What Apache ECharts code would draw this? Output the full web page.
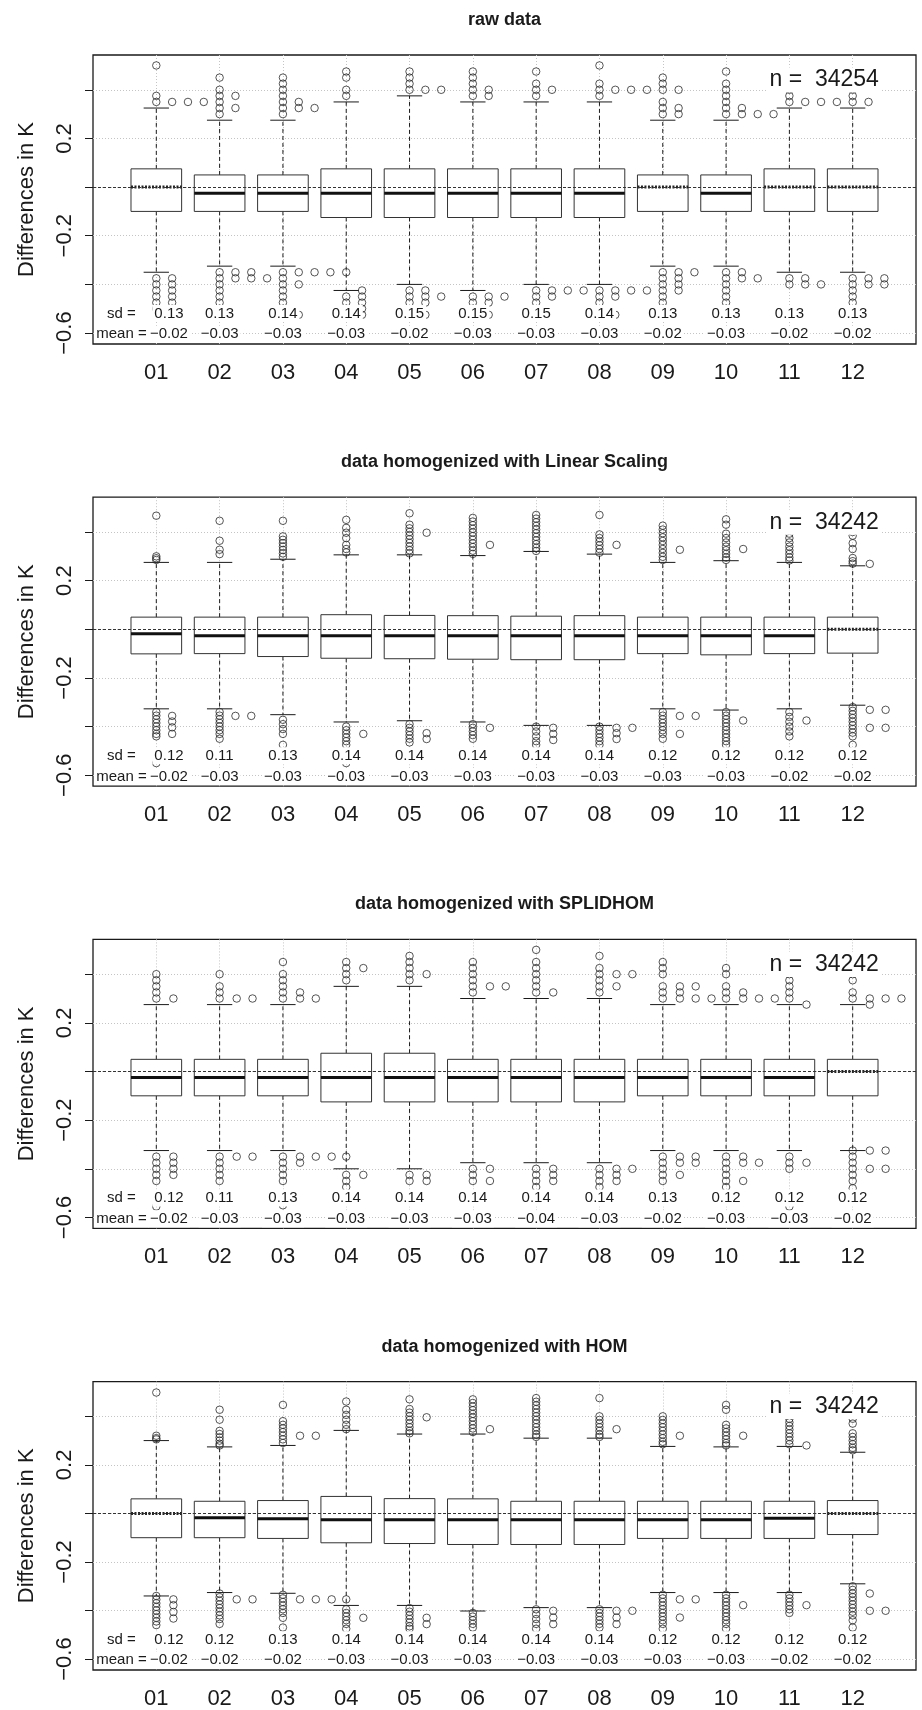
<!DOCTYPE html>
<html><head><meta charset="utf-8">
<script src="https://cdn.jsdelivr.net/npm/echarts@6/dist/echarts.min.js"></script>
<style>html,body{margin:0;padding:0;background:#fff}#c{width:922px;height:1710px}</style>
</head><body><div id="c"></div>
<script>
// ---------- data ----------
const months = ['01','02','03','04','05','06','07','08','09','10','11','12'];
const panelTitles = ['raw data','data homogenized with Linear Scaling','data homogenized with SPLIDHOM','data homogenized with HOM'];
const nValues = [34254, 34242, 34242, 34242];
const yTickValues = [-0.6, -0.4, -0.2, 0, 0.2, 0.4];
const yLabelValues = [-0.6, -0.2, 0.2];

// raw data
const rawHi  = [0.325,0.275,0.275,0.35,0.375,0.35,0.35,0.35,0.275,0.275,0.325,0.325];
const rawQ3  = [0.075,0.05,0.05,0.075,0.075,0.075,0.075,0.075,0.05,0.05,0.075,0.075];
const rawMed = [0,-0.025,-0.025,-0.025,-0.025,-0.025,-0.025,-0.025,0,-0.025,0,0];
const rawQ1  = [-0.1,-0.1,-0.1,-0.125,-0.125,-0.125,-0.125,-0.125,-0.1,-0.1,-0.1,-0.1];
const rawLo  = [-0.35,-0.325,-0.325,-0.425,-0.4,-0.425,-0.4,-0.4,-0.325,-0.325,-0.35,-0.35];
const rawSd   = [0.13,0.13,0.14,0.14,0.15,0.15,0.15,0.14,0.13,0.13,0.13,0.13];
const rawMean = [-0.02,-0.03,-0.03,-0.03,-0.02,-0.03,-0.03,-0.03,-0.02,-0.03,-0.02,-0.02];
const rawOut = [
 [1,0.35],[1,0.375],[1,0.5],[1.25,0.35],[1.5,0.35],[1.75,0.35],
 [2,0.3],[2,0.325],[2,0.35],[2,0.375],[2,0.4],[2,0.45],[2.25,0.325],[2.25,0.375],
 [3,0.3],[3,0.325],[3,0.35],[3,0.375],[3,0.4],[3,0.425],[3,0.45],[3.25,0.325],[3.25,0.35],[3.5,0.325],
 [4,0.375],[4,0.4],[4,0.45],[4,0.475],
 [5,0.4],[5,0.425],[5,0.45],[5,0.475],[5.25,0.4],[5.5,0.4],
 [6,0.375],[6,0.4],[6,0.425],[6,0.45],[6,0.475],[6.25,0.375],[6.25,0.4],
 [7,0.375],[7,0.4],[7,0.425],[7,0.475],[7.25,0.4],
 [8,0.375],[8,0.4],[8,0.425],[8,0.5],[8.25,0.4],[8.5,0.4],[8.75,0.4],
 [9,0.3],[9,0.325],[9,0.35],[9,0.4],[9,0.425],[9,0.45],[9.25,0.3],[9.25,0.325],[9.25,0.4],
 [10,0.3],[10,0.325],[10,0.35],[10,0.375],[10,0.4],[10,0.425],[10,0.475],[10.25,0.3],[10.25,0.325],[10.5,0.3],[10.75,0.3],
 [11,0.35],[11,0.375],[11,0.4],[11.25,0.35],[11.5,0.35],[11.75,0.35],
 [12,0.35],[12,0.375],[12,0.4],[12.25,0.35],
 [1,-0.375],[1,-0.4],[1,-0.425],[1,-0.45],[1,-0.475],[1,-0.5],[1.25,-0.375],[1.25,-0.4],[1.25,-0.425],[1.25,-0.45],[1.25,-0.475],[1.25,-0.5],
 [2,-0.35],[2,-0.375],[2,-0.4],[2,-0.425],[2,-0.45],[2,-0.475],[2,-0.5],[2.25,-0.35],[2.25,-0.375],[2.5,-0.35],[2.5,-0.375],[2.75,-0.375],
 [3,-0.35],[3,-0.375],[3,-0.4],[3,-0.425],[3,-0.45],[3,-0.475],[3,-0.5],[3.25,-0.35],[3.25,-0.4],[3.25,-0.525],[3.5,-0.35],[3.75,-0.35],[4,-0.35],
 [4,-0.45],[4,-0.475],[4,-0.5],[4.25,-0.425],[4.25,-0.45],[4.25,-0.475],[4.25,-0.5],[4.25,-0.525],
 [5,-0.425],[5,-0.45],[5,-0.475],[5.25,-0.425],[5.25,-0.45],[5.25,-0.475],[5.25,-0.525],[5.5,-0.45],
 [6,-0.45],[6,-0.475],[6,-0.5],[6.25,-0.45],[6.25,-0.475],[6.25,-0.525],[6.5,-0.45],
 [7,-0.425],[7,-0.45],[7,-0.475],[7.25,-0.425],[7.25,-0.45],[7.5,-0.425],[7.75,-0.425],
 [8,-0.425],[8,-0.45],[8,-0.475],[8.25,-0.425],[8.25,-0.45],[8.25,-0.525],[8.5,-0.425],[8.75,-0.425],
 [9,-0.35],[9,-0.375],[9,-0.4],[9,-0.425],[9,-0.45],[9,-0.475],[9,-0.5],[9.25,-0.35],[9.25,-0.375],[9.25,-0.4],[9.25,-0.425],[9.5,-0.35],
 [10,-0.35],[10,-0.375],[10,-0.4],[10,-0.425],[10,-0.45],[10,-0.475],[10,-0.5],[10.25,-0.35],[10.25,-0.375],[10.5,-0.375],
 [11,-0.375],[11,-0.4],[11.25,-0.375],[11.25,-0.4],[11.5,-0.4],
 [12,-0.375],[12,-0.4],[12,-0.425],[12,-0.45],[12,-0.475],[12.25,-0.375],[12.25,-0.4],[12.5,-0.375],[12.5,-0.4]
];

// Linear Scaling
const linHi  = [0.275,0.275,0.288,0.306,0.306,0.303,0.32,0.309,0.275,0.282,0.275,0.261];
const linQ3  = [0.05,0.05,0.05,0.06,0.057,0.056,0.054,0.056,0.05,0.05,0.05,0.05];
const linMed = [-0.018,-0.027,-0.027,-0.027,-0.027,-0.027,-0.027,-0.027,-0.027,-0.027,-0.027,0];
const linQ1  = [-0.101,-0.1,-0.112,-0.119,-0.121,-0.123,-0.125,-0.125,-0.1,-0.105,-0.1,-0.098];
const linLo  = [-0.327,-0.327,-0.351,-0.381,-0.376,-0.381,-0.395,-0.395,-0.327,-0.332,-0.327,-0.312];
const linSd   = [0.12,0.11,0.13,0.14,0.14,0.14,0.14,0.14,0.12,0.12,0.12,0.12];
const linMean = [-0.02,-0.03,-0.03,-0.03,-0.03,-0.03,-0.03,-0.03,-0.03,-0.03,-0.02,-0.02];
const linOut = [
 [1,0.467],[1,0.3],[1,0.292],[1,0.285],
 [2,0.446],[2,0.364],[2,0.327],[2,0.309],
 [3,0.446],[3,0.382],[3,0.368],[3,0.354],[3,0.34],[3,0.326],[3,0.312],[3,0.298],
 [4,0.45],[4,0.417],[4,0.397],[4,0.375],[4,0.347],[4,0.33],[4,0.316],
 [5,0.477],[5,0.43],[5,0.415],[5,0.4],[5,0.385],[5,0.37],[5,0.355],[5,0.34],[5,0.325],[5,0.312],[5.27,0.397],
 [6,0.458],[6,0.443],[6,0.428],[6,0.413],[6,0.398],[6,0.383],[6,0.368],[6,0.353],[6,0.338],[6,0.323],[6,0.31],[6.27,0.347],
 [7,0.47],[7,0.455],[7,0.44],[7,0.425],[7,0.41],[7,0.395],[7,0.38],[7,0.365],[7,0.35],[7,0.335],[7,0.322],
 [8,0.47],[8,0.39],[8,0.375],[8,0.36],[8,0.345],[8,0.33],[8,0.315],[8.27,0.347],
 [9,0.426],[9,0.41],[9,0.395],[9,0.378],[9,0.363],[9,0.347],[9,0.33],[9,0.314],[9,0.298],[9,0.285],[9.27,0.327],
 [10,0.452],[10,0.43],[10,0.393],[10,0.375],[10,0.357],[10,0.34],[10,0.325],[10,0.31],[10,0.295],[10,0.285],[10.27,0.33],
 [11,0.41],[11,0.393],[11,0.375],[11,0.357],[11,0.34],[11,0.325],[11,0.31],[11,0.295],[11,0.283],
 [12,0.4],[12,0.385],[12,0.354],[12,0.33],[12,0.293],[12,0.28],[12,0.27],[12.27,0.269],
 [1,-0.34],[1,-0.355],[1,-0.37],[1,-0.385],[1,-0.4],[1,-0.415],[1,-0.43],[1,-0.44],[1,-0.55],[1.25,-0.356],[1.25,-0.379],[1.25,-0.403],[1.25,-0.43],
 [2,-0.34],[2,-0.355],[2,-0.37],[2,-0.385],[2,-0.4],[2,-0.415],[2,-0.43],[2,-0.45],[2.25,-0.356],[2.5,-0.356],
 [3,-0.372],[3,-0.39],[3,-0.41],[3,-0.43],[3,-0.475],
 [4,-0.4],[4,-0.415],[4,-0.43],[4,-0.445],[4,-0.46],[4,-0.475],[4,-0.55],[4.27,-0.43],
 [5,-0.39],[5,-0.405],[5,-0.42],[5,-0.435],[5,-0.45],[5,-0.465],[5.27,-0.427],[5.27,-0.451],
 [6,-0.39],[6,-0.405],[6,-0.42],[6,-0.435],[6,-0.45],[6.27,-0.405],
 [7,-0.4],[7,-0.42],[7,-0.44],[7,-0.46],[7,-0.475],[7.27,-0.405],[7.27,-0.43],[7.27,-0.455],
 [8,-0.4],[8,-0.415],[8,-0.43],[8,-0.445],[8,-0.46],[8,-0.475],[8.27,-0.405],[8.27,-0.427],[8.27,-0.451],[8.52,-0.405],
 [9,-0.34],[9,-0.355],[9,-0.37],[9,-0.385],[9,-0.4],[9,-0.415],[9,-0.43],[9,-0.45],[9.27,-0.356],[9.27,-0.43],[9.52,-0.356],
 [10,-0.34],[10,-0.355],[10,-0.37],[10,-0.385],[10,-0.4],[10,-0.415],[10,-0.43],[10,-0.445],[10,-0.46],[10,-0.475],[10.27,-0.375],
 [11,-0.34],[11,-0.36],[11,-0.38],[11,-0.4],[11,-0.42],[11,-0.44],[11.27,-0.375],
 [12,-0.32],[12,-0.335],[12,-0.35],[12,-0.365],[12,-0.38],[12,-0.395],[12,-0.41],[12,-0.425],[12,-0.44],[12,-0.475],[12.27,-0.331],[12.27,-0.405],[12.52,-0.331],[12.52,-0.405]
];

// SPLIDHOM
const splHi  = [0.275,0.275,0.275,0.35,0.35,0.3,0.3,0.3,0.275,0.275,0.275,0.275];
const splQ3  = [0.05,0.05,0.05,0.075,0.075,0.05,0.05,0.05,0.05,0.05,0.05,0.05];
const splMed = [-0.025,-0.025,-0.025,-0.025,-0.025,-0.025,-0.025,-0.025,-0.025,-0.025,-0.025,0];
const splQ1  = [-0.1,-0.1,-0.1,-0.125,-0.125,-0.125,-0.125,-0.125,-0.1,-0.1,-0.1,-0.1];
const splLo  = [-0.325,-0.325,-0.325,-0.4,-0.4,-0.375,-0.375,-0.375,-0.325,-0.325,-0.325,-0.325];
const splSd   = [0.12,0.11,0.13,0.14,0.14,0.14,0.14,0.14,0.13,0.12,0.12,0.12];
const splMean = [-0.02,-0.03,-0.03,-0.03,-0.03,-0.03,-0.04,-0.03,-0.02,-0.03,-0.03,-0.02];
const splOut = [
 [1,0.3],[1,0.325],[1,0.35],[1,0.375],[1,0.4],[1.27,0.3],
 [2,0.3],[2,0.325],[2,0.35],[2,0.4],[2.27,0.3],[2.52,0.3],
 [3,0.3],[3,0.325],[3,0.35],[3,0.375],[3,0.4],[3,0.45],[3.27,0.3],[3.27,0.325],[3.52,0.3],
 [4,0.375],[4,0.4],[4,0.425],[4,0.45],[4.27,0.425],
 [5,0.375],[5,0.4],[5,0.425],[5,0.45],[5,0.475],[5.27,0.4],
 [6,0.325],[6,0.35],[6,0.375],[6,0.4],[6,0.425],[6,0.45],[6.27,0.35],[6.52,0.35],
 [7,0.325],[7,0.35],[7,0.375],[7,0.4],[7,0.425],[7,0.45],[7,0.5],[7.27,0.325],
 [8,0.325],[8,0.35],[8,0.375],[8,0.4],[8,0.425],[8,0.475],[8.27,0.35],[8.27,0.4],[8.52,0.4],
 [9,0.3],[9,0.325],[9,0.35],[9,0.4],[9,0.425],[9,0.45],[9.27,0.3],[9.27,0.325],[9.27,0.35],[9.52,0.3],[9.52,0.35],[9.77,0.3],
 [10,0.3],[10,0.325],[10,0.35],[10,0.4],[10,0.425],[10.27,0.3],[10.27,0.325],[10.52,0.3],[10.77,0.3],
 [11,0.3],[11,0.325],[11,0.35],[11,0.375],[11,0.4],[11.27,0.275],
 [12,0.3],[12,0.325],[12,0.375],[12,0.4],[12.27,0.3],[12.27,0.275],[12.52,0.3],[12.77,0.3],
 [1,-0.35],[1,-0.375],[1,-0.4],[1,-0.425],[1,-0.45],[1,-0.555],[1.27,-0.35],[1.27,-0.375],[1.27,-0.4],[1.27,-0.425],
 [2,-0.35],[2,-0.375],[2,-0.4],[2,-0.425],[2,-0.45],[2.27,-0.35],[2.52,-0.35],
 [3,-0.35],[3,-0.375],[3,-0.4],[3,-0.425],[3,-0.45],[3,-0.55],[3.27,-0.35],[3.27,-0.375],[3.52,-0.35],[3.77,-0.35],[4,-0.35],
 [4,-0.425],[4,-0.45],[4,-0.475],[4.27,-0.425],
 [5,-0.425],[5,-0.45],[5.27,-0.425],[5.27,-0.45],
 [6,-0.4],[6,-0.425],[6,-0.45],[6.27,-0.4],[6.27,-0.45],
 [7,-0.4],[7,-0.425],[7,-0.45],[7,-0.475],[7.27,-0.4],[7.27,-0.425],[7.27,-0.45],
 [8,-0.4],[8,-0.425],[8,-0.45],[8,-0.475],[8.27,-0.4],[8.27,-0.425],[8.27,-0.45],[8.52,-0.4],
 [9,-0.35],[9,-0.375],[9,-0.4],[9,-0.425],[9,-0.45],[9.27,-0.35],[9.27,-0.375],[9.27,-0.425],[9.52,-0.35],[9.52,-0.375],
 [10,-0.35],[10,-0.375],[10,-0.4],[10,-0.425],[10,-0.45],[10,-0.475],[10.27,-0.35],[10.27,-0.375],[10.27,-0.45],[10.52,-0.375],
 [11,-0.35],[11,-0.375],[11,-0.4],[11,-0.555],[11.27,-0.375],
 [12,-0.325],[12,-0.35],[12,-0.375],[12,-0.4],[12,-0.425],[12,-0.45],[12,-0.48],[12.27,-0.325],[12.27,-0.4],[12.52,-0.325],[12.52,-0.4]
];

// HOM
const homHi  = [0.3,0.274,0.28,0.342,0.327,0.327,0.31,0.31,0.276,0.274,0.276,0.252];
const homQ3  = [0.06,0.05,0.053,0.07,0.061,0.06,0.05,0.05,0.05,0.05,0.05,0.053];
const homMed = [0,-0.018,-0.022,-0.026,-0.026,-0.026,-0.026,-0.026,-0.026,-0.026,-0.02,0];
const homQ1  = [-0.1,-0.1,-0.103,-0.121,-0.124,-0.128,-0.128,-0.128,-0.103,-0.103,-0.103,-0.087];
const homLo  = [-0.34,-0.326,-0.329,-0.379,-0.379,-0.402,-0.388,-0.388,-0.326,-0.326,-0.326,-0.29];
const homSd   = [0.12,0.12,0.13,0.14,0.14,0.14,0.14,0.14,0.12,0.12,0.12,0.12];
const homMean = [-0.02,-0.02,-0.02,-0.03,-0.03,-0.03,-0.03,-0.03,-0.03,-0.03,-0.02,-0.02];
const homOut = [
 [1,0.498],[1,0.32],[1,0.31],[1,0.305],
 [2,0.427],[2,0.386],[2,0.34],[2,0.327],[2,0.313],[2,0.3],[2,0.287],[2,0.28],
 [3,0.447],[3,0.38],[3,0.365],[3,0.35],[3,0.335],[3,0.32],[3,0.305],[3,0.29],[3.27,0.32],[3.52,0.32],
 [4,0.461],[4,0.427],[4,0.406],[4,0.386],[4,0.365],[4,0.347],
 [5,0.47],[5,0.43],[5,0.415],[5,0.4],[5,0.385],[5,0.37],[5,0.355],[5,0.34],[5,0.33],[5.27,0.396],
 [6,0.47],[6,0.455],[6,0.44],[6,0.425],[6,0.41],[6,0.395],[6,0.38],[6,0.365],[6,0.35],[6,0.335],[6.27,0.347],
 [7,0.475],[7,0.46],[7,0.445],[7,0.43],[7,0.415],[7,0.4],[7,0.385],[7,0.37],[7,0.355],[7,0.34],[7,0.325],[7,0.315],
 [8,0.475],[8,0.4],[8,0.385],[8,0.37],[8,0.355],[8,0.34],[8,0.325],[8,0.315],[8.27,0.347],
 [9,0.4],[9,0.385],[9,0.37],[9,0.355],[9,0.34],[9,0.325],[9,0.31],[9,0.295],[9,0.285],[9.27,0.32],
 [10,0.447],[10,0.427],[10,0.365],[10,0.35],[10,0.335],[10,0.32],[10,0.305],[10,0.29],[10,0.28],[10.27,0.32],
 [11,0.39],[11,0.375],[11,0.36],[11,0.345],[11,0.33],[11,0.315],[11,0.3],[11,0.285],[11.27,0.28],
 [12,0.39],[12,0.37],[12,0.33],[12,0.315],[12,0.3],[12,0.285],[12,0.27],[12,0.26],
 [1,-0.34],[1,-0.355],[1,-0.37],[1,-0.385],[1,-0.4],[1,-0.415],[1,-0.43],[1,-0.445],[1,-0.46],[1.27,-0.354],[1.27,-0.378],[1.27,-0.406],[1.27,-0.433],
 [2,-0.33],[2,-0.345],[2,-0.36],[2,-0.375],[2,-0.39],[2,-0.405],[2,-0.42],[2,-0.435],[2,-0.455],[2.27,-0.354],[2.52,-0.354],
 [3,-0.335],[3,-0.35],[3,-0.365],[3,-0.38],[3,-0.395],[3,-0.41],[3,-0.43],[3,-0.47],[3.27,-0.354],[3.52,-0.354],[3.77,-0.354],[4,-0.354],
 [4,-0.395],[4,-0.41],[4,-0.425],[4,-0.44],[4,-0.455],[4,-0.475],[4.27,-0.43],
 [5,-0.39],[5,-0.405],[5,-0.42],[5,-0.435],[5,-0.45],[5,-0.465],[5,-0.475],[5.27,-0.43],[5.27,-0.456],
 [6,-0.41],[6,-0.425],[6,-0.44],[6,-0.455],[6,-0.47],
 [7,-0.395],[7,-0.415],[7,-0.435],[7,-0.455],[7,-0.475],[7.27,-0.401],[7.27,-0.429],[7.27,-0.456],
 [8,-0.395],[8,-0.41],[8,-0.425],[8,-0.44],[8,-0.455],[8,-0.47],[8.27,-0.401],[8.27,-0.429],[8.27,-0.456],[8.52,-0.401],
 [9,-0.335],[9,-0.35],[9,-0.365],[9,-0.38],[9,-0.395],[9,-0.41],[9,-0.425],[9,-0.44],[9,-0.455],[9,-0.475],[9.27,-0.354],[9.27,-0.429],[9.52,-0.354],
 [10,-0.335],[10,-0.35],[10,-0.365],[10,-0.38],[10,-0.395],[10,-0.41],[10,-0.425],[10,-0.44],[10,-0.455],[10,-0.475],[10.27,-0.378],
 [11,-0.335],[11,-0.35],[11,-0.365],[11,-0.38],[11,-0.395],[11,-0.41],[11.27,-0.378],
 [12,-0.3],[12,-0.315],[12,-0.33],[12,-0.345],[12,-0.36],[12,-0.375],[12,-0.39],[12,-0.405],[12,-0.42],[12,-0.44],[12,-0.47],[12.27,-0.33],[12.27,-0.401],[12.52,-0.401]
];

// ---------- layout / style ----------
const FONT = '"Liberation Sans", Arial, Helvetica, sans-serif';
const PANEL_TOP = 55, PANEL_STEP = 442.2, PANEL_H = 289;
const Y_MIN = -0.645, Y_MAX = 0.543;
const X_MIN = 0, X_MAX = 13;
const SD_Y = -0.52, MEAN_Y = -0.605;
const BOX_W = 0.8;
const INK = '#1a1a1a';

const panels = [
  {title: panelTitles[0], n: nValues[0], lo: rawLo, q1: rawQ1, med: rawMed, q3: rawQ3, hi: rawHi, out: rawOut, sd: rawSd, mean: rawMean},
  {title: panelTitles[1], n: nValues[1], lo: linLo, q1: linQ1, med: linMed, q3: linQ3, hi: linHi, out: linOut, sd: linSd, mean: linMean},
  {title: panelTitles[2], n: nValues[2], lo: splLo, q1: splQ1, med: splMed, q3: splQ3, hi: splHi, out: splOut, sd: splSd, mean: splMean},
  {title: panelTitles[3], n: nValues[3], lo: homLo, q1: homQ1, med: homMed, q3: homQ3, hi: homHi, out: homOut, sd: homSd, mean: homMean}
];

const fmtSigned = (v, d) => (v < 0 ? '\u2212' : '') + Math.abs(v).toFixed(d);
const monthPos = months.map((m, k) => k + 1);

const grids = [], xAxes = [], yAxes = [], series = [], titles = [];

panels.forEach((p, i) => {
  const top = PANEL_TOP + PANEL_STEP * i;
  grids.push({left: 93, right: 6, top: top, height: PANEL_H, show: true,
    borderColor: INK, borderWidth: 1.3, backgroundColor: 'transparent'});
  titles.push({text: p.title, left: 504.5, top: top - 35, textAlign: 'center', textVerticalAlign: 'middle', padding: 0,
    textStyle: {fontFamily: FONT, fontSize: 18, fontWeight: 'bold', color: INK}});
  xAxes.push({gridIndex: i, type: 'value', min: X_MIN, max: X_MAX, interval: 1,
    axisLine: {show: false},
    axisTick: {show: true, inside: false, length: 8, customValues: monthPos, lineStyle: {color: INK, width: 1}},
    axisLabel: {customValues: monthPos, formatter: v => months[Math.round(v) - 1] || '',
      fontFamily: FONT, fontSize: 22, color: INK, margin: 18},
    splitLine: {show: true, lineStyle: {color: '#c4c4c4', width: 1, type: [1, 2]}}});
  yAxes.push({gridIndex: i, type: 'value', min: Y_MIN, max: Y_MAX,
    axisLine: {show: false},
    axisTick: {show: true, inside: false, length: 8, customValues: yTickValues, lineStyle: {color: INK, width: 1}},
    axisLabel: {customValues: yLabelValues, rotate: 90, formatter: v => fmtSigned(v, 1),
      fontFamily: FONT, fontSize: 22, color: INK, margin: 17},
    splitLine: {show: true, lineStyle: {color: '#c4c4c4', width: 1, type: [1, 2]}},
    name: 'Differences in K', nameLocation: 'middle', nameGap: 55, nameRotate: 90,
    nameTextStyle: {fontFamily: FONT, fontSize: 22, color: INK}});

  // boxes
  series.push({type: 'custom', xAxisIndex: i, yAxisIndex: i, z: 2, silent: true,
    data: months.map((m, k) => [k + 1, p.lo[k], p.q1[k], p.med[k], p.q3[k], p.hi[k]]),
    encode: {x: 0, y: [1, 2, 3, 4, 5]},
    renderItem: (params, api) => {
      const x = api.value(0);
      const lo = api.value(1), q1 = api.value(2), med = api.value(3), q3 = api.value(4), hi = api.value(5);
      const c = (xx, yy) => api.coord([xx, yy]);
      const h = BOX_W / 2, s = BOX_W / 4;
      const ln = (a, b, style) => ({type: 'line', shape: {x1: a[0], y1: a[1], x2: b[0], y2: b[1]}, style: style});
      const dash = {stroke: INK, lineWidth: 1, lineDash: [4, 3]};
      const solid = {stroke: INK, lineWidth: 1};
      const tl = c(x - h, q3), br = c(x + h, q1);
      const medStyle = med === 0
        ? {stroke: '#222', lineWidth: 3, lineDash: [2, 1.5]}
        : {stroke: '#111', lineWidth: 3};
      return {type: 'group', children: [
        ln(c(x, q3), c(x, hi), dash),
        ln(c(x, q1), c(x, lo), dash),
        ln(c(x - s, hi), c(x + s, hi), solid),
        ln(c(x - s, lo), c(x + s, lo), solid),
        {type: 'rect', shape: {x: tl[0], y: tl[1], width: br[0] - tl[0], height: br[1] - tl[1]},
          style: {fill: '#fff', stroke: '#333', lineWidth: 1}},
        ln(c(x - h, med), c(x + h, med), medStyle)
      ]};
    }});

  // outliers + zero line
  series.push({type: 'scatter', xAxisIndex: i, yAxisIndex: i, z: 3, silent: true,
    data: p.out, symbol: 'circle', symbolSize: 7.5,
    itemStyle: {color: 'rgba(0,0,0,0)', borderColor: '#2a2a2a', borderWidth: 1},
    markLine: {silent: true, symbol: 'none', label: {show: false},
      lineStyle: {color: '#333', width: 1, type: [3, 2]}, data: [{yAxis: 0}]}});

  // text labels
  const items = [{x: 0.45, y: SD_Y, text: 'sd =', size: 15}, {x: 0.45, y: MEAN_Y, text: 'mean =', size: 15}];
  p.sd.forEach((v, k) => items.push({x: k === 0 ? 1.2 : k + 1, y: SD_Y, text: v.toFixed(2), size: 15}));
  p.mean.forEach((v, k) => items.push({x: k === 0 ? 1.2 : k + 1, y: MEAN_Y, text: fmtSigned(v, 2), size: 15}));
  items.push({x: 11.55, y: 0.44, text: 'n =  ' + p.n, size: 23});
  series.push({type: 'custom', xAxisIndex: i, yAxisIndex: i, z: 5, silent: true,
    data: items.map(o => [o.x, o.y]), encode: {x: 0, y: 1},
    renderItem: (params, api) => {
      const o = items[params.dataIndex];
      const pt = api.coord([api.value(0), api.value(1)]);
      return {type: 'text', x: pt[0], y: pt[1], style: {text: o.text, fill: INK,
        font: o.size + 'px ' + FONT, align: 'center', verticalAlign: 'middle',
        backgroundColor: '#fff', padding: [1, 2]}};
    }});
});

const chart = echarts.init(document.getElementById('c'), null, {renderer: 'canvas'});
chart.setOption({animation: false, backgroundColor: '#fff', title: titles,
  grid: grids, xAxis: xAxes, yAxis: yAxes, series: series});
</script></body></html>
